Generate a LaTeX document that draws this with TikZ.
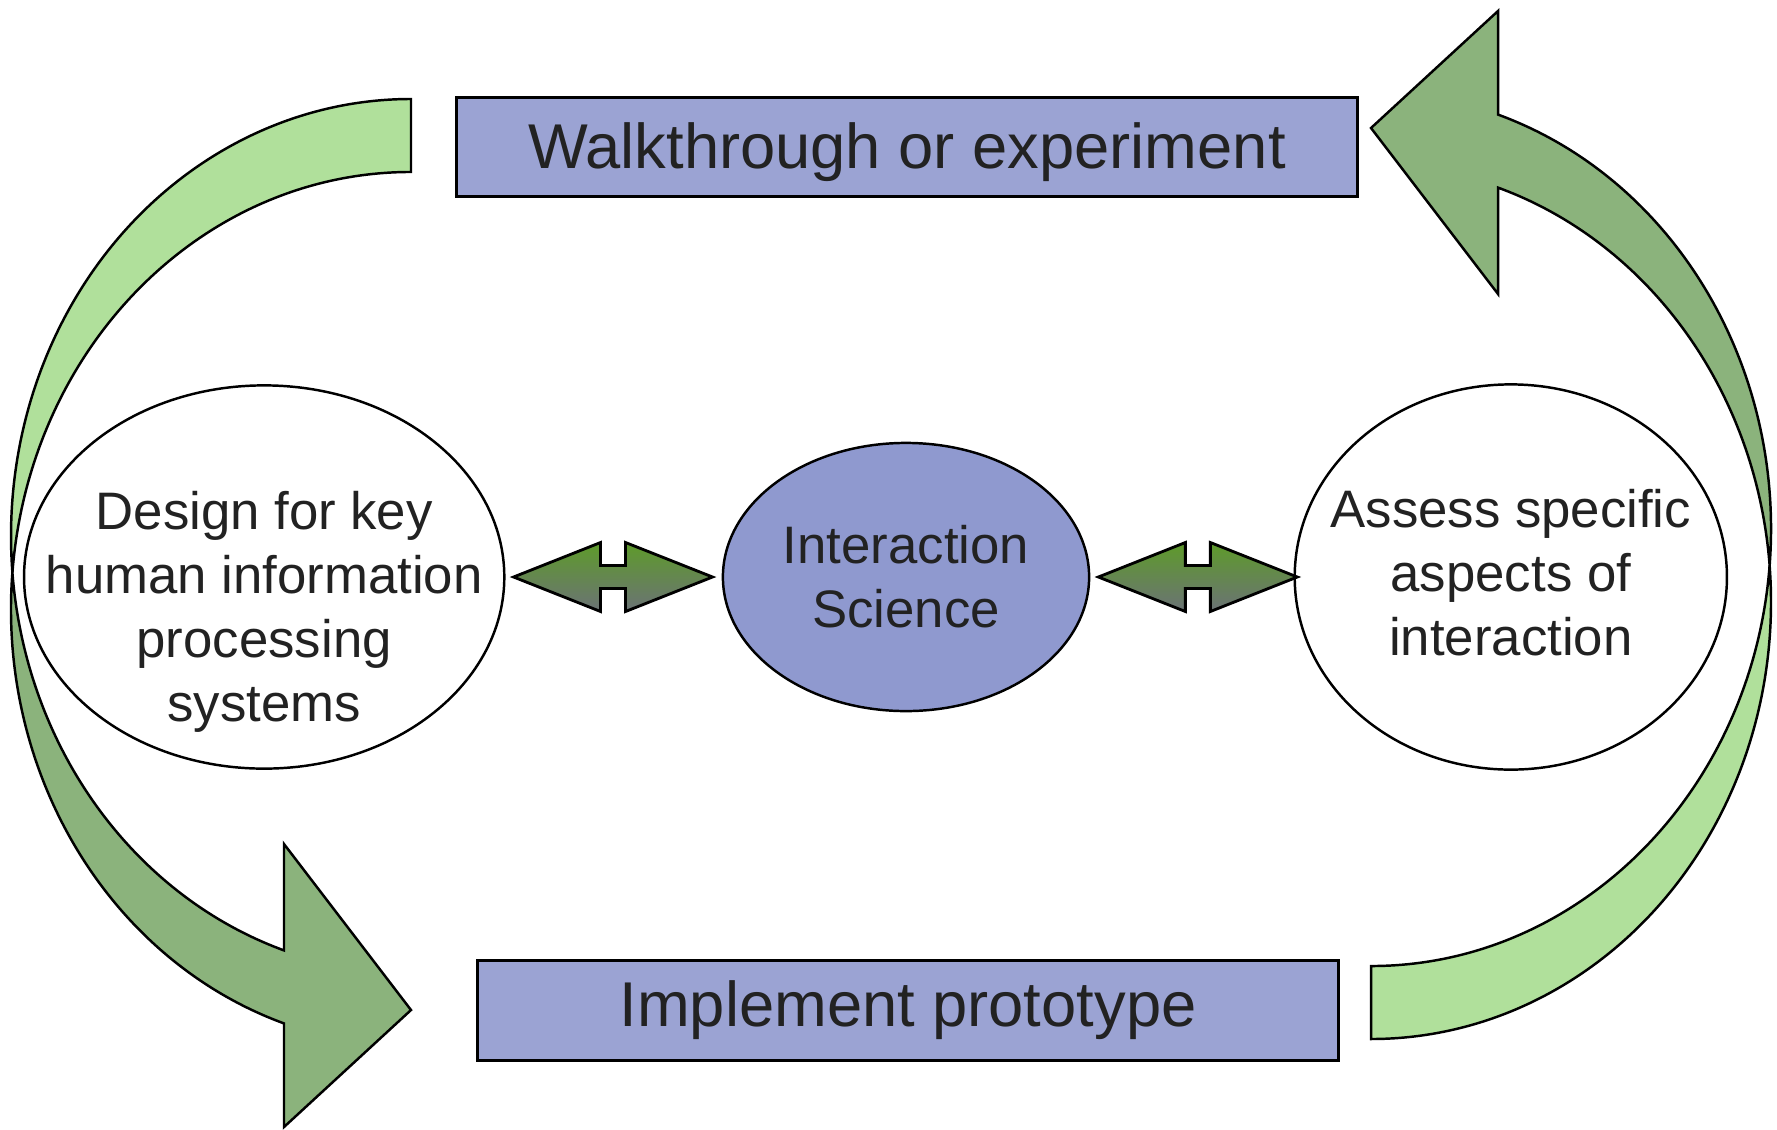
\documentclass[tikz,border=0pt]{standalone}
\usepackage{fontspec}
\setmainfont{Liberation Sans}
\usepackage{xcolor}
\usepackage{tikz}
\usetikzlibrary{shapes.geometric,positioning,calc}
\definecolor{BoxBlue}{HTML}{9BA3D3}
\definecolor{CoreBlue}{HTML}{8F99CF}
\definecolor{TailGreen}{HTML}{B0E09B}
\definecolor{HeadGreen}{HTML}{8BB37C}
\definecolor{LinkTop}{HTML}{5E9B2A}
\definecolor{LinkBottom}{HTML}{6B7276}
\definecolor{Ink}{HTML}{222222}

\begin{document}
\begin{tikzpicture}[
	x=0.01cm, y=0.01cm,
	every node/.style={text=Ink},
	box/.style={draw, line width=0.85pt, fill=BoxBlue, inner sep=0pt, minimum height=0.99cm, font=\fontsize{18}{21.6}\selectfont},
	oval/.style={draw, ellipse, line width=0.7pt, inner sep=0pt},
	words/.style={align=center, inner sep=0pt, font=\fontsize{15}{18.2}\selectfont},
	tail/.style={draw, line width=0.7pt, fill=TailGreen},
	head/.style={draw, line width=0.7pt, fill=HeadGreen},
	twoway/.style={draw, line width=0.8pt, top color=LinkTop, bottom color=LinkBottom}
]
\useasboundingbox (0,0) rectangle (1777,1129);

% the two curved arrows, the second one turned round the middle
\foreach \turn in {0,180} {
\begin{scope}[rotate around={\turn:(891,560)}]
	\path[tail] (411,1030) arc[start angle=90, end angle=184.79, x radius=400, y radius=437]
		arc[start angle=175.21, end angle=90, x radius=400, y radius=437] -- cycle;
	\path[head] (12.4,556.5) arc[start angle=184.79, end angle=251.49, x radius=400, y radius=437]
		-- (284,285) -- (411,119) -- (284,2) -- (284,105.6)
		arc[start angle=251.49, end angle=175.21, x radius=400, y radius=437] -- cycle;
\end{scope}
}

\node[box, minimum width=9.01cm, text depth=1pt] (walk) at (907,982) {Walkthrough or experiment};
\node[box, minimum width=8.60cm] (proto) at (908,118.5) {Implement prototype};

\node[oval, fill=CoreBlue, minimum width=3.66cm, minimum height=2.68cm, words] (science) at (906,552) {Interaction\\Science};
\node[oval, fill=white, minimum width=4.80cm, minimum height=3.83cm, left=2.16cm of science] (design) {};
\node[oval, fill=white, minimum width=4.32cm, minimum height=3.85cm, right=2.03cm of science] (assess) {};
\node[words] (designtxt) at ($(design)+(0,-34.5)$) {Design for key\\human information\\processing\\systems};
\node[words] (assesstxt) at ($(assess)+(0,4.5)$) {Assess specific\\aspects of\\interaction};

\foreach \from in {design, science}
	\draw[twoway] ($(\from.east)+(8,0)$) -- ++(87,34.5) -- ++(0,-23) -- ++(25,0) -- ++(0,23)
		-- ++(87,-34.5) -- ++(-87,-34.5) -- ++(0,23) -- ++(-25,0) -- ++(0,-23) -- cycle;
\end{tikzpicture}
\end{document}
